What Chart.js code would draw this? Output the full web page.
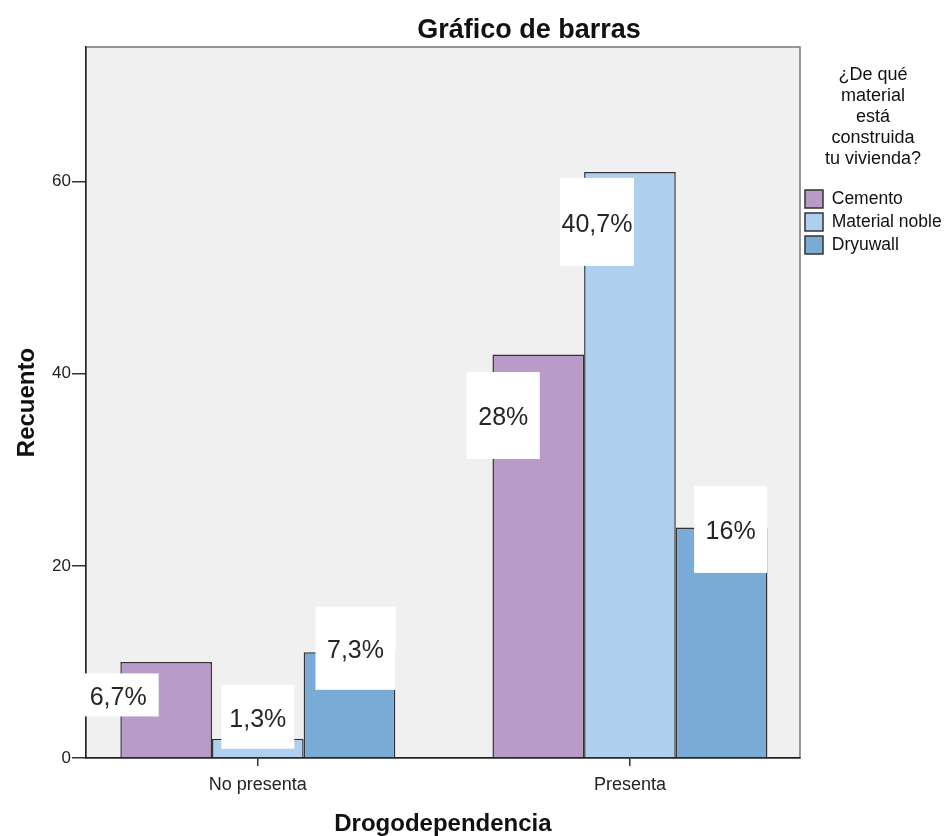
<!DOCTYPE html>
<html>
<head>
<meta charset="utf-8">
<title>Gráfico de barras</title>
<script src="https://cdn.jsdelivr.net/npm/chart.js@4"></script>
<style>
  html, body { margin: 0; padding: 0; background: #fff; }
  #wrap { width: 946px; height: 836px; }
</style>
</head>
<body>
<div id="wrap"><canvas id="barChart"></canvas></div>
<script>
const categories = ['No presenta', 'Presenta'];
const seriesNames = ['Cemento', 'Material noble', 'Dryuwall'];
const cemento = [10, 42];
const materialNoble = [2, 61];
const dryuwall = [11, 24];
const yTicks = [0, 20, 40, 60];
const legendTitle = ['¿De qué', 'material', 'está', 'construida', 'tu vivienda?'];

const total = [cemento, materialNoble, dryuwall].flat().reduce((a, b) => a + b, 0);

function pct(v) {
    return (v / total * 100).toFixed(1).replace('.0', '').replace('.', ',') + '%';
}

function points(values) {
    return values.map((v, i) => ({x: i + 1, y: v}));
}

Chart.defaults.font.family = '"Liberation Sans", Arial, sans-serif';
Chart.defaults.color = '#222';

// white boxes with the percentages, placed like SPSS does
const labelBoxes = [
    [{dx: -48, dy: 33, w: 81, h: 43}, {dx: -35, dy: 61, w: 73, h: 87}],
    [{dx: 0, dy: -22, w: 73, h: 64}, {dx: -33, dy: 50, w: 74, h: 88}],
    [{dx: 6, dy: -4, w: 80, h: 83}, {dx: 9, dy: 2, w: 73, h: 87}]
];

const plotFrame = {
    id: 'plotFrame',
    beforeDraw(chart) {
        const {ctx, chartArea: a} = chart;
        ctx.save();
        ctx.fillStyle = '#f0f0f0';
        ctx.fillRect(a.left, a.top, a.width, a.height);
        ctx.strokeStyle = '#777';
        ctx.lineWidth = 1.5;
        ctx.strokeRect(a.left, a.top, a.width, a.height);
        ctx.restore();
    }
};

const pctLabels = {
    id: 'pctLabels',
    afterDatasetsDraw(chart) {
        const ctx = chart.ctx;
        ctx.save();
        ctx.font = '25px "Liberation Sans", Arial, sans-serif';
        ctx.textAlign = 'center';
        ctx.textBaseline = 'middle';
        chart.data.datasets.forEach((ds, d) => {
            chart.getDatasetMeta(d).data.forEach((bar, i) => {
                const b = labelBoxes[d][i];
                const cx = bar.x + b.dx;
                const cy = bar.y + b.dy;
                ctx.fillStyle = '#fff';
                ctx.fillRect(cx - b.w / 2, cy - b.h / 2, b.w, b.h);
                ctx.fillStyle = '#262626';
                ctx.fillText(pct(ds.data[i].y), cx, cy + 3);
            });
        });
        ctx.restore();
    }
};

const chartTitle = {
    id: 'chartTitle',
    afterDraw(chart) {
        const ctx = chart.ctx;
        ctx.save();
        ctx.font = 'bold 27px "Liberation Sans", Arial, sans-serif';
        ctx.textAlign = 'center';
        ctx.textBaseline = 'middle';
        ctx.fillStyle = '#111';
        ctx.fillText('Gráfico de barras', 529, 31);
        ctx.restore();
    }
};

const barCtx =
document.getElementById('barChart');

const barChart =
new Chart(barCtx, {
    type: 'bar',

    data: {
        datasets: [{
            label: seriesNames[0],
            data: points(cemento),
            backgroundColor: '#b89bc9'
        }, {
            label: seriesNames[1],
            data: points(materialNoble),
            backgroundColor: '#aed0ee'
        }, {
            label: seriesNames[2],
            data: points(dryuwall),
            backgroundColor: '#7aaad6'
        }]
    },

    options: {
        responsive: true,
        maintainAspectRatio: false,
        animation: false,
        layout: {
            padding: {top: 47}
        },
        datasets: {
            bar: {
                borderColor: '#333',
                borderWidth: 1.5,
                barPercentage: 1,
                categoryPercentage: 0.739
            }
        },

        plugins: {
            legend: {
                position: 'right',
                align: 'start',
                maxWidth: 146,
                labels: {
                    boxWidth: 18,
                    boxHeight: 18,
                    padding: 5,
                    color: '#111',
                    font: {size: 17.5}
                },
                title: {
                    display: true,
                    text: legendTitle,
                    position: 'center',
                    color: '#111',
                    font: {size: 18, lineHeight: 21 / 18},
                    padding: {top: 19, bottom: 98}
                }
            },
            tooltip: {enabled: false}
        },

        scales: {
            x: {
                type: 'linear',
                min: 0.538,
                max: 2.457,
                bounds: 'data',
                offset: false,
                z: 1,
                afterBuildTicks: s => {
                    s.ticks = categories.map((c, i) => ({value: i + 1}));
                },
                ticks: {
                    autoSkip: false,
                    maxRotation: 0,
                    padding: 8,
                    color: '#222',
                    font: {size: 18},
                    callback: (v, i) => categories[i]
                },
                grid: {
                    drawOnChartArea: false,
                    offset: false,
                    tickLength: 8,
                    color: '#333',
                    lineWidth: 1.5
                },
                border: {color: '#222', width: 1.5},
                title: {
                    display: true,
                    text: 'Drogodependencia',
                    color: '#111',
                    font: {size: 24, weight: 'bold', lineHeight: 1},
                    padding: {top: 8.4, bottom: 0}
                }
            },
            y: {
                min: 0,
                max: 74,
                afterBuildTicks: s => {
                    s.ticks = yTicks.map(v => ({value: v}));
                },
                ticks: {
                    padding: 1,
                    color: '#222',
                    font: {size: 17}
                },
                grid: {
                    drawOnChartArea: false,
                    tickLength: 14,
                    color: '#333',
                    lineWidth: 1.5
                },
                border: {color: '#222', width: 1.5},
                title: {
                    display: true,
                    text: 'Recuento',
                    color: '#111',
                    font: {size: 24, weight: 'bold', lineHeight: 1},
                    padding: {top: 15, bottom: 12}
                }
            }
        }
    },
    plugins: [plotFrame, pctLabels, chartTitle]
});
</script>
</body>
</html>
